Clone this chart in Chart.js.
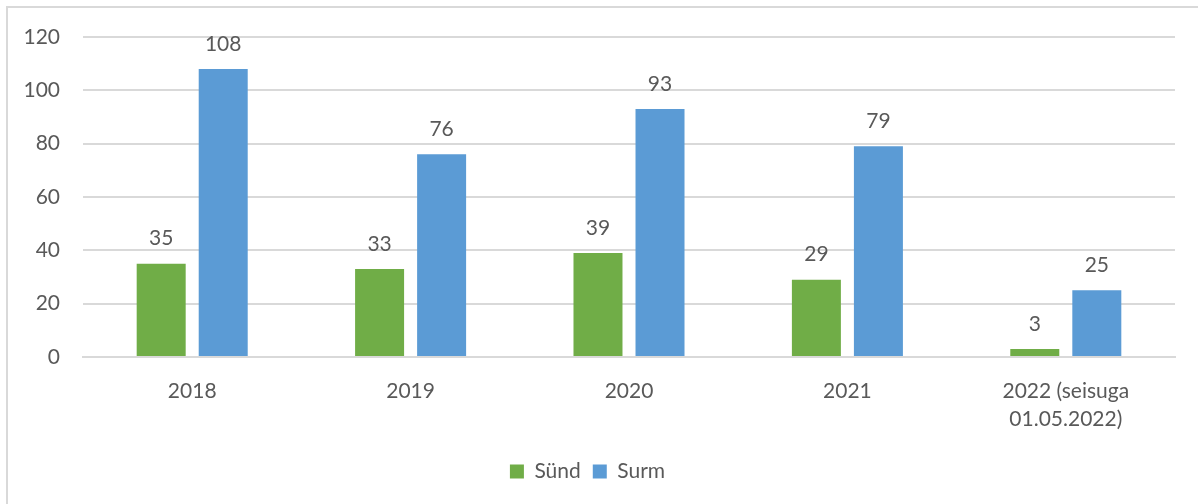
<!DOCTYPE html>
<html lang="et">
<head>
    <meta charset="UTF-8">
    <title>Sünd ja surm</title>
    <script src="https://cdn.jsdelivr.net/npm/chart.js"></script>
    <style>
        body { margin: 0; background: #fff; }
        .wrap { position: relative; width: 1198px; height: 504px; }
        .frame {
            position: absolute; left: 6px; top: 6px; width: 1200px; height: 510px;
            border-top: 2px solid #d9d9d9; border-left: 2px solid #d9d9d9;
        }
        canvas { position: absolute; left: 0; top: 0; }
    </style>
</head>
<body>
    <div class="wrap">
        <div class="frame"></div>
        <canvas id="chart" width="1198" height="504"></canvas>
    </div>

    <script>
        var years = ['2018', '2019', '2020', '2021', ['2022 (seisuga', '01.05.2022)']];
        var synd = [35, 33, 39, 29, 3];
        var surm = [108, 76, 93, 79, 25];

        var textColor = '#595959';
        var fontName = 'Lato, "Open Sans", sans-serif';

        // numbers above the bars
        var valueLabels = {
            id: 'valueLabels',
            afterDatasetsDraw: function (chart) {
                var ctx = chart.ctx;
                ctx.save();
                ctx.fillStyle = textColor;
                ctx.font = '21px ' + fontName;
                ctx.textAlign = 'center';
                ctx.textBaseline = 'middle';
                chart.data.datasets.forEach(function (ds, i) {
                    chart.getDatasetMeta(i).data.forEach(function (bar, j) {
                        ctx.fillText(ds.data[j], bar.x, bar.y - 25);
                    });
                });
                ctx.restore();
            }
        };

        var ctx = document.getElementById('chart').getContext('2d');
        var chart = new Chart(ctx, {
            type: 'bar',
            data: {
                labels: years,
                datasets: [
                    { label: 'Sünd', data: synd, backgroundColor: '#70ad47' },
                    { label: 'Surm', data: surm, backgroundColor: '#5b9bd5' }
                ]
            },
            options: {
                responsive: false,
                animation: false,
                categoryPercentage: 0.568,
                barPercentage: 0.79,
                layout: { padding: { top: 37, right: 23, bottom: 12, left: 0 } },
                plugins: {
                    tooltip: { enabled: false },
                    legend: {
                        position: 'bottom',
                        labels: {
                            color: textColor,
                            font: { family: fontName, size: 21 },
                            boxWidth: 14,
                            boxHeight: 14,
                            padding: 12
                        }
                    }
                },
                scales: {
                    x: {
                        grid: { display: false },
                        border: { color: '#d9d9d9', width: 2 },
                        ticks: {
                            color: textColor,
                            font: { family: fontName, size: 21, lineHeight: 1.3 },
                            padding: 13,
                            maxRotation: 0
                        },
                        afterFit: function (s) { s.height = 92; }
                    },
                    y: {
                        min: 0,
                        max: 120,
                        ticks: {
                            stepSize: 20,
                            color: textColor,
                            font: { family: fontName, size: 21 },
                            padding: 23
                        },
                        grid: { color: '#d9d9d9', lineWidth: 2, drawTicks: false },
                        border: { display: false },
                        afterFit: function (s) { s.width = 83; }
                    }
                }
            },
            plugins: [valueLabels]
        });
    </script>
</body>
</html>
